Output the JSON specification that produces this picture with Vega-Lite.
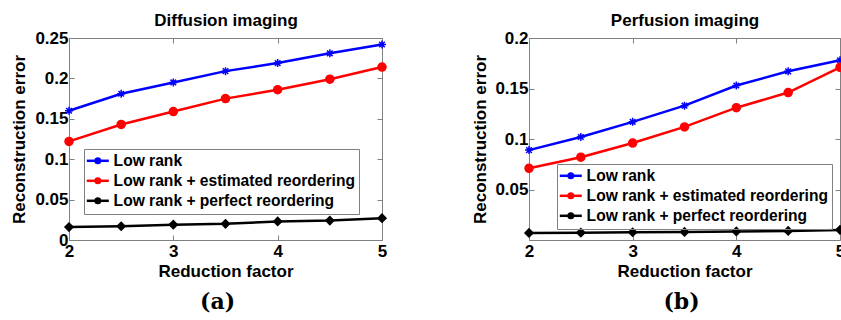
{
  "$schema": "https://vega.github.io/schema/vega-lite/v6.json",
  "background": "white",
  "padding": {"left": 10, "top": 11, "right": 0, "bottom": 0},
  "datasets": {
    "diffusion": [
      {"series": "Low rank", "factor": 2, "error": 0.160},
      {"series": "Low rank", "factor": 2.5, "error": 0.181},
      {"series": "Low rank", "factor": 3, "error": 0.195},
      {"series": "Low rank", "factor": 3.5, "error": 0.209},
      {"series": "Low rank", "factor": 4, "error": 0.219},
      {"series": "Low rank", "factor": 4.5, "error": 0.231},
      {"series": "Low rank", "factor": 5, "error": 0.242},
      {"series": "Low rank + estimated reordering", "factor": 2, "error": 0.122},
      {"series": "Low rank + estimated reordering", "factor": 2.5, "error": 0.143},
      {"series": "Low rank + estimated reordering", "factor": 3, "error": 0.159},
      {"series": "Low rank + estimated reordering", "factor": 3.5, "error": 0.175},
      {"series": "Low rank + estimated reordering", "factor": 4, "error": 0.186},
      {"series": "Low rank + estimated reordering", "factor": 4.5, "error": 0.199},
      {"series": "Low rank + estimated reordering", "factor": 5, "error": 0.214},
      {"series": "Low rank + perfect reordering", "factor": 2, "error": 0.016},
      {"series": "Low rank + perfect reordering", "factor": 2.5, "error": 0.017},
      {"series": "Low rank + perfect reordering", "factor": 3, "error": 0.019},
      {"series": "Low rank + perfect reordering", "factor": 3.5, "error": 0.020},
      {"series": "Low rank + perfect reordering", "factor": 4, "error": 0.023},
      {"series": "Low rank + perfect reordering", "factor": 4.5, "error": 0.024},
      {"series": "Low rank + perfect reordering", "factor": 5, "error": 0.027}
    ],
    "perfusion": [
      {"series": "Low rank", "factor": 2, "error": 0.089},
      {"series": "Low rank", "factor": 2.5, "error": 0.102},
      {"series": "Low rank", "factor": 3, "error": 0.117},
      {"series": "Low rank", "factor": 3.5, "error": 0.133},
      {"series": "Low rank", "factor": 4, "error": 0.153},
      {"series": "Low rank", "factor": 4.5, "error": 0.167},
      {"series": "Low rank", "factor": 5, "error": 0.178},
      {"series": "Low rank + estimated reordering", "factor": 2, "error": 0.071},
      {"series": "Low rank + estimated reordering", "factor": 2.5, "error": 0.082},
      {"series": "Low rank + estimated reordering", "factor": 3, "error": 0.096},
      {"series": "Low rank + estimated reordering", "factor": 3.5, "error": 0.112},
      {"series": "Low rank + estimated reordering", "factor": 4, "error": 0.131},
      {"series": "Low rank + estimated reordering", "factor": 4.5, "error": 0.146},
      {"series": "Low rank + estimated reordering", "factor": 5, "error": 0.171},
      {"series": "Low rank + perfect reordering", "factor": 2, "error": 0.007},
      {"series": "Low rank + perfect reordering", "factor": 2.5, "error": 0.0073},
      {"series": "Low rank + perfect reordering", "factor": 3, "error": 0.0077},
      {"series": "Low rank + perfect reordering", "factor": 3.5, "error": 0.008},
      {"series": "Low rank + perfect reordering", "factor": 4, "error": 0.0085},
      {"series": "Low rank + perfect reordering", "factor": 4.5, "error": 0.009},
      {"series": "Low rank + perfect reordering", "factor": 5, "error": 0.010}
    ]
  },
  "spacing": 81,
  "resolve": {
    "scale": {"color": "independent", "shape": "independent", "stroke": "independent"},
    "legend": {"color": "independent"}
  },
  "config": {
    "view": {"stroke": "#808080", "strokeWidth": 1},
    "axis": {
      "grid": false, "domain": false, "tickColor": "#808080", "tickSize": -5, "tickWidth": 1,
      "labelFont": "Liberation Sans", "labelFontSize": 17, "labelFontWeight": "bold", "labelColor": "black",
      "titleFont": "Liberation Sans", "titleFontSize": 17, "titleFontWeight": "bold", "titleColor": "black",
      "labelOverlap": false
    },
    "legend": {
      "title": null, "orient": "none", "padding": 4, "symbolSize": 49, "symbolOffset": 2,
      "labelFont": "Liberation Sans", "labelFontSize": 15.6, "labelFontWeight": "bold", "labelColor": "black",
      "labelOffset": 8, "rowPadding": 3, "labelLimit": 400
    }
  },
  "hconcat": [
    {
      "width": 313, "height": 202,
      "title": {"text": "(a)", "orient": "bottom", "anchor": "middle", "font": "DejaVu Serif", "fontSize": 22, "fontWeight": "bold", "color": "black", "offset": 13, "dx": -8},
      "data": {"name": "diffusion"},
      "resolve": {"axis": {"x": "independent", "y": "independent"}, "scale": {"color": "independent"}},
      "encoding": {
        "x": {"field": "factor", "type": "quantitative", "scale": {"domain": [2, 5], "nice": false, "zero": false},
              "axis": {"orient": "bottom", "values": [2, 3, 4, 5], "title": "Reduction factor", "labelFlush": false, "labelPadding": 8, "titlePadding": 4}},
        "y": {"field": "error", "type": "quantitative", "scale": {"domain": [0, 0.25], "nice": false},
              "axis": {"orient": "left", "values": [0, 0.05, 0.1, 0.15, 0.2, 0.25], "format": "~g", "title": "Reconstruction error", "labelPadding": 6, "titlePadding": 6}}
      },
      "layer": [
        {"mark": {"type": "line", "strokeWidth": 2.5},
         "encoding": {
           "color": {"field": "series", "type": "nominal",
                     "scale": {"domain": ["Low rank", "Low rank + estimated reordering", "Low rank + perfect reordering"], "range": ["#0000ff", "#ff0000", "#000000"]},
                     "legend": {"legendX": 15, "legendY": 111, "symbolType": "M-3.14,0H3.14", "symbolStrokeWidth": 2.5, "labelExpr": "' '"}}
         }},
        {"mark": {"type": "point", "filled": true, "size": 64, "strokeWidth": 1.5, "opacity": 1},
         "encoding": {
           "x": {"field": "factor", "type": "quantitative", "axis": {"orient": "top", "values": [2, 3, 4, 5], "labels": false, "title": "Diffusion imaging", "titlePadding": 8}},
           "y": {"field": "error", "type": "quantitative", "axis": {"orient": "right", "values": [0, 0.05, 0.1, 0.15, 0.2, 0.25], "labels": false, "title": null}},
           "color": {"field": "series", "type": "nominal",
                     "scale": {"domain": ["Low rank", "Low rank + estimated reordering", "Low rank + perfect reordering"], "range": ["#0000ff", "#ff0000", "#000000"]},
                     "legend": {"legendX": 15, "legendY": 111, "strokeColor": "#808080", "symbolStrokeWidth": 1.5}},
           "shape": {"field": "series", "type": "nominal", "legend": null,
                     "scale": {"domain": ["Low rank", "Low rank + estimated reordering", "Low rank + perfect reordering"], "range": ["M0,-1V1M-1,0H1M-0.7,-0.7L0.7,0.7M-0.7,0.7L0.7,-0.7", "circle", "diamond"]}},
           "stroke": {"field": "series", "type": "nominal", "legend": null,
                      "scale": {"domain": ["Low rank", "Low rank + estimated reordering", "Low rank + perfect reordering"], "range": ["#0000ff", "#ff0000", "#000000"]}}
         }}
      ]
    },
    {
      "width": 311, "height": 202,
      "title": {"text": "(b)", "orient": "bottom", "anchor": "middle", "font": "DejaVu Serif", "fontSize": 22, "fontWeight": "bold", "color": "black", "offset": 13, "dx": -3},
      "data": {"name": "perfusion"},
      "resolve": {"axis": {"x": "independent", "y": "independent"}, "scale": {"color": "independent"}},
      "encoding": {
        "x": {"field": "factor", "type": "quantitative", "scale": {"domain": [2, 5], "nice": false, "zero": false},
              "axis": {"orient": "bottom", "values": [2, 3, 4, 5], "title": "Reduction factor", "labelFlush": false, "labelPadding": 8, "titlePadding": 4}},
        "y": {"field": "error", "type": "quantitative", "scale": {"domain": [0, 0.2], "nice": false},
              "axis": {"orient": "left", "values": [0.05, 0.1, 0.15, 0.2], "format": "~g", "title": "Reconstruction error", "labelPadding": 6, "titlePadding": 5}}
      },
      "layer": [
        {"mark": {"type": "line", "strokeWidth": 2.5},
         "encoding": {
           "color": {"field": "series", "type": "nominal",
                     "scale": {"domain": ["Low rank", "Low rank + estimated reordering", "Low rank + perfect reordering"], "range": ["#0000ff", "#ff0000", "#000000"]},
                     "legend": {"legendX": 28, "legendY": 126, "symbolType": "M-3.14,0H3.14", "symbolStrokeWidth": 2.5, "labelExpr": "' '"}}
         }},
        {"mark": {"type": "point", "filled": true, "size": 64, "strokeWidth": 1.5, "opacity": 1},
         "encoding": {
           "x": {"field": "factor", "type": "quantitative", "axis": {"orient": "top", "values": [2, 3, 4, 5], "labels": false, "title": "Perfusion imaging", "titlePadding": 8}},
           "y": {"field": "error", "type": "quantitative", "axis": {"orient": "right", "values": [0.05, 0.1, 0.15, 0.2], "labels": false, "title": null}},
           "color": {"field": "series", "type": "nominal",
                     "scale": {"domain": ["Low rank", "Low rank + estimated reordering", "Low rank + perfect reordering"], "range": ["#0000ff", "#ff0000", "#000000"]},
                     "legend": {"legendX": 28, "legendY": 126, "strokeColor": "#808080", "symbolStrokeWidth": 1.5}},
           "shape": {"field": "series", "type": "nominal", "legend": null,
                     "scale": {"domain": ["Low rank", "Low rank + estimated reordering", "Low rank + perfect reordering"], "range": ["M0,-1V1M-1,0H1M-0.7,-0.7L0.7,0.7M-0.7,0.7L0.7,-0.7", "circle", "diamond"]}},
           "stroke": {"field": "series", "type": "nominal", "legend": null,
                      "scale": {"domain": ["Low rank", "Low rank + estimated reordering", "Low rank + perfect reordering"], "range": ["#0000ff", "#ff0000", "#000000"]}}
         }}
      ]
    }
  ]
}
